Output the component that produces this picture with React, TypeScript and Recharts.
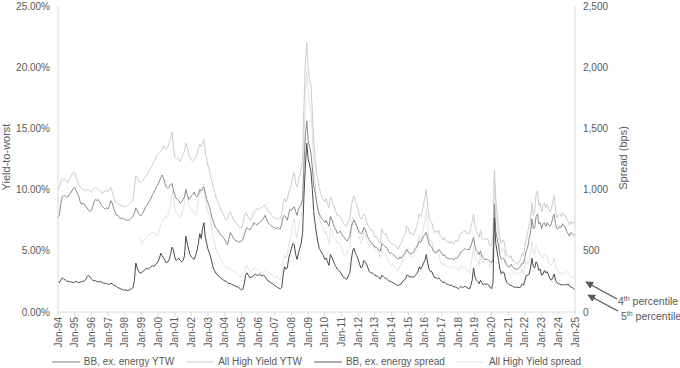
import { LineChart, Line, XAxis, YAxis, Legend } from 'recharts';

const tickLabels = [
  'Jan-94', 'Jan-95', 'Jan-96', 'Jan-97', 'Jan-98', 'Jan-99', 'Jan-00', 'Jan-01',
  'Jan-02', 'Jan-03', 'Jan-04', 'Jan-05', 'Jan-06', 'Jan-07', 'Jan-08', 'Jan-09',
  'Jan-10', 'Jan-11', 'Jan-12', 'Jan-13', 'Jan-14', 'Jan-15', 'Jan-16', 'Jan-17',
  'Jan-18', 'Jan-19', 'Jan-20', 'Jan-21', 'Jan-22', 'Jan-23', 'Jan-24', 'Jan-25',
];
const months = ['Jan', 'Feb', 'Mar', 'Apr', 'May', 'Jun', 'Jul', 'Aug', 'Sep', 'Oct', 'Nov', 'Dec'];

// BB ex. energy yield-to-worst, %, monthly Jan-94 .. Jan-25
const bbYtw = [
  7.7, 8.0, 8.8, 9.4, 9.5, 9.5, 9.4, 9.4, 9.6, 9.7, 9.9, 10.1,
  10.2, 9.9, 9.7, 9.4, 9.0, 8.8, 8.9, 8.8, 8.6, 8.5, 8.3, 8.2,
  8.3, 8.6, 9.0, 9.2, 9.1, 9.2, 9.0, 8.8, 8.6, 8.5, 8.4, 8.5,
  8.4, 8.7, 9.1, 8.9, 8.5, 8.2, 7.9, 7.9, 7.8, 7.6, 7.7, 7.6,
  7.6, 7.5, 7.5, 7.5, 7.6, 7.7, 7.8, 8.1, 8.5, 8.3, 8.0, 7.9,
  7.9, 8.1, 8.3, 8.6, 8.7, 8.9, 9.1, 9.3, 9.6, 9.8, 10.0, 10.3,
  10.4, 10.7, 11.0, 11.2, 10.9, 10.5, 10.2, 10.1, 10.2, 10.4, 10.5, 10.0,
  9.6, 9.3, 9.2, 9.1, 8.9, 9.0, 9.2, 9.4, 10.0, 9.6, 9.2, 9.3,
  9.5, 9.6, 9.8, 9.5, 9.4, 9.6, 10.0, 9.9, 10.1, 10.2, 9.7, 9.2,
  8.9, 8.6, 8.1, 7.6, 7.3, 7.0, 6.8, 6.7, 6.5, 6.3, 6.2, 6.1,
  5.9, 5.7, 5.5, 6.0, 6.5, 6.3, 6.1, 5.9, 5.8, 5.8, 5.7, 5.8,
  5.8, 5.9, 6.3, 6.7, 6.9, 6.8, 6.7, 6.9, 7.0, 7.3, 7.2, 7.1,
  7.2, 7.3, 7.4, 7.5, 7.7, 7.9, 7.6, 7.3, 7.2, 7.1, 7.0, 6.9,
  6.9, 6.8, 6.9, 6.8, 6.8, 7.2, 7.8, 7.9, 7.7, 7.5, 8.0, 8.4,
  8.3, 8.5, 8.6, 8.2, 7.9, 8.4, 8.6, 8.8, 9.2, 12.0, 14.5, 15.6,
  14.0, 13.5, 13.0, 11.8, 10.3, 9.8, 9.0, 8.4, 8.0, 7.8, 7.6, 7.5,
  7.3, 7.5, 7.2, 7.0, 7.8, 7.6, 7.2, 6.9, 6.7, 6.4, 6.5, 6.6,
  6.4, 6.2, 6.1, 5.9, 5.8, 6.0, 6.2, 6.9, 7.3, 7.5, 7.2, 7.0,
  6.7, 6.5, 6.4, 6.5, 6.9, 6.8, 6.4, 6.1, 5.9, 5.7, 5.6, 5.5,
  5.3, 5.3, 5.2, 5.0, 5.0, 5.6, 5.5, 5.4, 5.3, 5.2, 4.9, 4.8,
  4.8, 4.7, 4.6, 4.5, 4.4, 4.3, 4.5, 4.4, 4.6, 4.7, 4.9, 5.1,
  4.9, 4.8, 4.8, 4.8, 4.9, 5.2, 5.3, 5.5, 5.8, 5.7, 5.9, 6.2,
  6.3, 6.5, 6.0, 5.6, 5.4, 5.3, 5.0, 4.9, 4.9, 4.9, 5.1, 5.0,
  4.8, 4.6, 4.7, 4.5, 4.4, 4.4, 4.3, 4.4, 4.3, 4.3, 4.4, 4.4,
  4.5, 4.7, 4.9, 5.0, 5.1, 5.2, 5.1, 5.1, 5.1, 5.4, 5.7, 6.1,
  5.4, 5.0, 4.9, 4.7, 5.0, 4.6, 4.4, 4.3, 4.3, 4.3, 4.2, 4.1,
  4.0, 4.3, 8.8, 6.6, 6.0, 5.4, 4.6, 4.3, 4.4, 4.3, 4.0, 3.8,
  3.7, 3.7, 3.9, 3.7, 3.6, 3.5, 3.5, 3.5, 3.6, 3.8, 4.0, 4.0,
  4.5, 5.0, 5.3, 6.0, 6.5, 7.6, 6.8, 6.9, 7.8, 8.0, 7.2, 7.3,
  6.8, 7.2, 7.3, 7.0, 7.3, 7.1, 7.0, 7.2, 7.7, 8.0, 7.2, 6.8,
  6.8, 7.0, 6.9, 7.2, 7.1, 6.9, 6.6, 6.4, 6.2, 6.5, 6.4, 6.3,
  6.3,
];

// All high yield yield-to-worst, %
const hyYtw = [
  10.0, 10.2, 10.6, 10.9, 10.8, 10.8, 10.7, 10.6, 10.8, 11.0, 11.2, 11.4,
  11.4, 11.0, 10.7, 10.4, 10.2, 10.1, 10.0, 10.0, 9.9, 10.0, 10.0, 9.9,
  9.8, 9.9, 10.1, 10.2, 10.1, 10.0, 9.9, 9.8, 9.7, 9.8, 9.9, 10.0,
  9.8, 10.0, 10.2, 9.8, 9.4, 9.1, 8.9, 8.8, 8.8, 8.7, 8.7, 8.6,
  8.6, 8.6, 8.7, 8.8, 8.9, 9.0, 9.2, 10.2, 11.1, 11.0, 10.7, 10.6,
  10.6, 10.7, 10.9, 11.1, 11.2, 11.4, 11.6, 11.8, 12.0, 12.3, 12.5, 12.8,
  12.9, 13.0, 13.1, 13.3, 13.6, 13.4, 13.3, 13.5, 13.8, 14.2, 14.7, 13.6,
  12.7, 12.5, 12.6, 12.5, 12.3, 12.6, 12.9, 13.2, 13.8, 13.5, 12.9, 12.6,
  12.4, 12.3, 12.4, 12.6, 12.9, 13.3, 13.7, 13.5, 13.8, 14.1, 13.0, 12.5,
  11.9, 11.6, 11.0, 10.6, 10.1, 9.7, 9.2, 9.0, 8.7, 8.4, 8.2, 8.0,
  7.7, 7.5, 7.6, 8.0, 8.2, 7.9, 7.6, 7.5, 7.3, 7.2, 7.0, 6.9,
  6.9, 7.1, 7.8, 8.1, 8.0, 7.7, 7.5, 7.6, 7.8, 8.2, 8.3, 8.4,
  8.4, 8.4, 8.5, 8.6, 8.7, 8.7, 8.5, 8.3, 8.2, 8.0, 7.9, 7.7,
  7.7, 7.6, 7.7, 7.6, 7.6, 8.0, 8.9, 9.3, 9.0, 9.2, 9.8, 10.0,
  10.5, 11.1, 11.4, 10.5, 10.2, 10.8, 11.2, 11.6, 12.5, 17.0, 20.5, 22.0,
  20.0, 19.0, 18.5, 16.5, 14.0, 12.5, 11.4, 10.8, 10.2, 9.7, 9.5, 9.2,
  9.0, 9.3, 8.8, 8.5, 9.4, 9.2, 8.8, 8.5, 8.2, 7.8, 7.9, 7.8,
  7.6, 7.3, 7.2, 7.0, 7.1, 7.4, 7.6, 8.6, 9.2, 9.5, 9.0, 8.8,
  8.3, 7.8, 7.6, 7.7, 8.0, 7.9, 7.4, 7.1, 6.9, 6.7, 6.7, 6.5,
  6.1, 6.2, 6.0, 5.7, 5.6, 6.8, 6.5, 6.3, 6.4, 6.0, 5.8, 5.7,
  5.6, 5.5, 5.5, 5.4, 5.3, 5.1, 5.5, 5.6, 6.0, 6.2, 6.4, 7.0,
  6.9, 6.4, 6.5, 6.3, 6.3, 6.7, 6.9, 7.4, 8.0, 7.8, 8.2, 8.8,
  9.3, 10.0, 8.6, 7.8, 7.4, 7.3, 6.8, 6.5, 6.6, 6.5, 6.7, 6.2,
  6.1, 5.9, 6.1, 5.8, 5.7, 5.8, 5.6, 5.8, 5.6, 5.6, 5.9, 5.8,
  5.8, 6.3, 6.5, 6.5, 6.6, 6.6, 6.4, 6.4, 6.4, 6.9, 7.4, 8.0,
  7.1, 6.6, 6.4, 6.1, 6.7, 6.0, 5.9, 6.0, 5.9, 6.0, 5.7, 5.4,
  5.5, 6.3, 11.6, 9.3, 8.0, 7.0, 6.0, 5.6, 5.9, 5.8, 5.0, 4.6,
  4.6, 4.4, 4.6, 4.2, 4.2, 4.0, 4.0, 4.0, 4.1, 4.4, 4.8, 4.6,
  5.4, 6.0, 6.5, 7.1, 7.6, 8.9, 7.9, 8.3, 9.6, 9.9, 8.7, 8.9,
  8.2, 8.7, 8.9, 8.5, 8.8, 8.5, 8.2, 8.4, 9.0, 9.5, 8.4, 7.7,
  7.9, 8.0, 7.8, 8.1, 7.9, 7.9, 7.6, 7.4, 7.1, 7.4, 7.2, 7.4,
  7.3,
];

// BB ex. energy spread, bps
const bbSpread = [
  250, 240, 260, 280, 270, 265, 255, 250, 250, 245, 245, 240,
  245, 250, 245, 240, 245, 250, 250, 255, 265, 290, 300, 285,
  270, 260, 255, 255, 250, 245, 250, 245, 240, 235, 235, 230,
  230, 225, 235, 230, 220, 215, 210, 200, 195, 190, 185, 180,
  180, 180, 175, 180, 185, 190, 200, 260, 400, 360, 330, 320,
  320, 330, 340, 350, 360, 350, 360, 370, 380, 370, 385, 400,
  410, 440, 480, 460, 440, 420, 400, 410, 430, 470, 530, 510,
  450, 420, 430, 440, 420, 410, 420, 460, 620, 560, 510, 470,
  450, 440, 430, 460, 500, 560, 640, 600, 680, 730, 610, 560,
  510, 480, 440, 390, 350, 330, 310, 300, 290, 280, 270, 260,
  255, 250, 240, 230, 235, 225, 220, 215, 210, 205, 200, 190,
  180, 185, 230, 300, 320, 300, 280, 285, 290, 300, 310, 300,
  300, 310, 300, 295, 300, 290, 270, 255, 250, 240, 235, 225,
  215, 210, 200, 195, 190, 200, 300, 370, 350, 360, 440, 480,
  520, 560, 550, 470, 430, 480, 520, 560, 650, 950, 1200, 1380,
  1250, 1200, 1150, 1000, 820, 720, 640, 570, 520, 500, 480, 460,
  430, 440, 410, 380, 470, 450, 420, 390, 370, 350, 340, 330,
  310, 290, 280, 270, 270, 300, 320, 420, 500, 520, 480, 460,
  430, 390, 360, 370, 420, 410, 390, 360, 330, 320, 320, 310,
  300, 295, 290, 280, 270, 300, 290, 280, 275, 265, 255, 250,
  245, 240, 235, 225, 220, 215, 225, 230, 250, 260, 270, 300,
  300, 285, 290, 285, 285, 300, 310, 330, 370, 350, 370, 400,
  420, 470, 400, 350, 330, 330, 300, 280, 280, 270, 280, 265,
  250, 240, 245, 235, 225, 225, 215, 220, 210, 205, 205, 200,
  190, 200, 210, 200, 205, 210, 200, 195, 190, 215, 260, 360,
  290, 260, 250, 230, 260, 240, 220, 230, 225, 230, 220, 200,
  190, 240, 770, 560, 490, 420, 350, 310, 330, 320, 270, 240,
  230, 220, 220, 210, 205, 200, 205, 200, 200, 205, 230, 220,
  260, 300, 300, 310, 360, 440, 370, 360, 410, 390, 340, 350,
  300, 310, 340, 320, 330, 300, 270, 260, 280, 310, 260, 240,
  230, 230, 220, 225, 220, 225, 220, 230, 210, 205, 200, 190,
  185,
];

// All high yield spread, bps, series begins Dec-98
const hySpreadStart = 59;
const hySpread = [
  610,
  560, 570, 590, 600, 610, 630, 630, 640, 650, 650, 640, 620,
  640, 680, 720, 730, 760, 780, 770, 790, 830, 890, 960, 1000,
  860, 810, 800, 780, 770, 800, 840, 880, 1010, 960, 880, 850,
  820, 840, 800, 790, 830, 920, 1000, 970, 1020, 1050, 920, 860,
  810, 790, 740, 650, 590, 540, 500, 480, 460, 430, 410, 390,
  370, 360, 370, 350, 360, 340, 330, 330, 320, 310, 300, 290,
  290, 280, 320, 370, 380, 350, 330, 340, 340, 360, 360, 350,
  340, 330, 320, 320, 330, 340, 350, 340, 330, 310, 300, 290,
  280, 290, 290, 270, 260, 300, 420, 470, 440, 460, 560, 590,
  640, 730, 760, 650, 600, 680, 740, 780, 880, 1400, 1800, 1970,
  1800, 1700, 1650, 1450, 1200, 1050, 920, 860, 780, 730, 700, 680,
  640, 660, 600, 560, 680, 660, 620, 600, 590, 560, 570, 550,
  520, 480, 470, 460, 470, 510, 530, 680, 780, 760, 740, 720,
  660, 590, 560, 590, 650, 630, 590, 560, 540, 550, 550, 540,
  500, 500, 490, 470, 440, 520, 490, 480, 470, 430, 410, 400,
  380, 390, 370, 360, 350, 335, 380, 380, 420, 450, 480, 520,
  520, 460, 470, 450, 450, 490, 510, 560, 630, 590, 620, 690,
  750, 840, 700, 600, 580, 580, 520, 480, 480, 470, 480, 420,
  400, 380, 400, 380, 370, 380, 360, 370, 360, 360, 370, 360,
  340, 370, 380, 360, 370, 360, 350, 330, 320, 380, 440, 530,
  450, 420, 420, 380, 470, 420, 400, 430, 410, 410, 380, 360,
  400, 480, 1080, 800, 700, 620, 500, 490, 520, 510, 430, 390,
  390, 360, 350, 330, 320, 310, 320, 320, 310, 320, 350, 310,
  380, 420, 390, 420, 490, 580, 480, 470, 550, 520, 480, 480,
  440, 440, 480, 460, 460, 400, 380, 380, 400, 440, 380, 340,
  340, 320, 310, 320, 310, 320, 330, 330, 300, 290, 280, 290,
  290,
];

const leftTicks = [0, 5, 10, 15, 20, 25];
const rightTicks = [0, 500, 1000, 1500, 2000, 2500];

const data = bbYtw.map((v, i) => ({
  i,
  date: `${months[i % 12]}-${tickLabels[Math.floor(i / 12)].slice(4)}`,
  bbYtw: v,
  hyYtw: hyYtw[i],
  bbSpread: bbSpread[i],
  hySpread: i >= hySpreadStart ? hySpread[i - hySpreadStart] : null,
}));

const FONT = '"Liberation Sans", Arial, sans-serif';
const TEXT = '#595959';
const AXIS = '#d9d9d9';

const legendItems = [
  { label: 'BB, ex. energy YTW', color: '#bdbdbd' },
  { label: 'All High Yield YTW', color: '#e6e6e6' },
  { label: 'BB, ex. energy spread', color: '#b0b0b0' },
  { label: 'All High Yield spread', color: '#f0f0f0' },
];

function LegendContent() {
  return (
    <div
      style={{
        height: 16,
        width: 680,
        boxSizing: 'border-box',
        display: 'flex',
        justifyContent: 'center',
        alignItems: 'flex-end',
        paddingRight: 47,
        fontFamily: FONT,
        fontSize: 10,
        lineHeight: '12px',
        color: TEXT,
        whiteSpace: 'nowrap',
      }}
    >
      {legendItems.map((it, k) => (
        <span key={k} style={{ display: 'flex', flexShrink: 0, alignItems: 'center', marginLeft: k ? 12 : 0 }}>
          <span style={{ width: 28, height: 2, background: it.color, marginRight: 4 }} />
          {it.label}
        </span>
      ))}
    </div>
  );
}

function XTick({ x, y, payload }: any) {
  const label = tickLabels[Math.round(payload.value / 12)];
  return (
    <text
      x={x}
      y={y}
      transform={`rotate(-90 ${x} ${y})`}
      textAnchor="end"
      dominantBaseline="central"
      fill={TEXT}
      fontSize={10}
      fontFamily={FONT}
    >
      {label}
    </text>
  );
}

export default function App() {
  return (
    <div style={{ position: 'absolute', left: 0, top: 0, width: 680, height: 368, fontFamily: FONT }}>
      <LineChart width={680} height={368} data={data} margin={{ top: 6, right: 0, bottom: 0, left: 0 }}>
        <XAxis
          dataKey="i"
          type="number"
          domain={[0, 372]}
          ticks={tickLabels.map((_, k) => k * 12)}
          interval={0}
          height={40}
          tick={<XTick />}
          tickSize={4}
          tickMargin={1}
          tickLine={{ stroke: AXIS }}
          axisLine={{ stroke: AXIS }}
        />
        <YAxis
          yAxisId="left"
          width={58}
          domain={[0, 25]}
          ticks={leftTicks}
          tickFormatter={(v: number) => `${v.toFixed(2)}%`}
          tickLine={false}
          axisLine={{ stroke: AXIS }}
          tick={{ fill: TEXT, fontSize: 10, fontFamily: FONT }}
        />
        <YAxis
          yAxisId="right"
          orientation="right"
          width={105}
          domain={[0, 2500]}
          ticks={rightTicks}
          tickFormatter={(v: number) => v.toLocaleString('en-US')}
          tickLine={false}
          axisLine={{ stroke: AXIS }}
          tick={{ fill: TEXT, fontSize: 10, fontFamily: FONT, textAnchor: 'start' }}
        />
        <Legend verticalAlign="bottom" content={<LegendContent />} />
        <Line yAxisId="right" dataKey="hySpread" stroke="#e3e3e3" strokeWidth={1} dot={false} isAnimationActive={false} />
        <Line yAxisId="left" dataKey="hyYtw" stroke="#cccccc" strokeWidth={1} dot={false} isAnimationActive={false} />
        <Line yAxisId="left" dataKey="bbYtw" stroke="#8a8a8a" strokeWidth={1} dot={false} isAnimationActive={false} />
        <Line yAxisId="right" dataKey="bbSpread" stroke="#4a4a4a" strokeWidth={1} dot={false} isAnimationActive={false} />
      </LineChart>
      <svg
        width={680}
        height={368}
        style={{ position: 'absolute', left: 0, top: 0, pointerEvents: 'none' }}
        fontFamily={FONT}
      >
        <defs>
          <marker id="arrowHead" viewBox="0 0 10 10" refX="9" refY="5" markerWidth="6" markerHeight="6" orient="auto">
            <path d="M0,0 L10,5 L0,10 z" fill="#595959" />
          </marker>
        </defs>
        <text x={6} y={157} transform="rotate(-90 6 157)" textAnchor="middle" dominantBaseline="central" fontSize={11} fill={TEXT}>
          Yield-to-worst
        </text>
        <text x={623} y={158} transform="rotate(-90 623 158)" textAnchor="middle" dominantBaseline="central" fontSize={11} fill={TEXT}>
          Spread (bps)
        </text>
        <line x1={617} y1={299} x2={586} y2={282} stroke="#595959" strokeWidth={1.3} markerEnd="url(#arrowHead)" />
        <line x1={618} y1={311} x2={588} y2={295} stroke="#595959" strokeWidth={1.3} markerEnd="url(#arrowHead)" />
        <text x={618} y={305} fontSize={10.5} fill={TEXT}>
          4<tspan fontSize={7} dy={-4}>th</tspan>
          <tspan dy={4}> percentile</tspan>
        </text>
        <text x={621} y={320} fontSize={10.5} fill={TEXT}>
          5<tspan fontSize={7} dy={-4}>th</tspan>
          <tspan dy={4}> percentile</tspan>
        </text>
      </svg>
    </div>
  );
}
